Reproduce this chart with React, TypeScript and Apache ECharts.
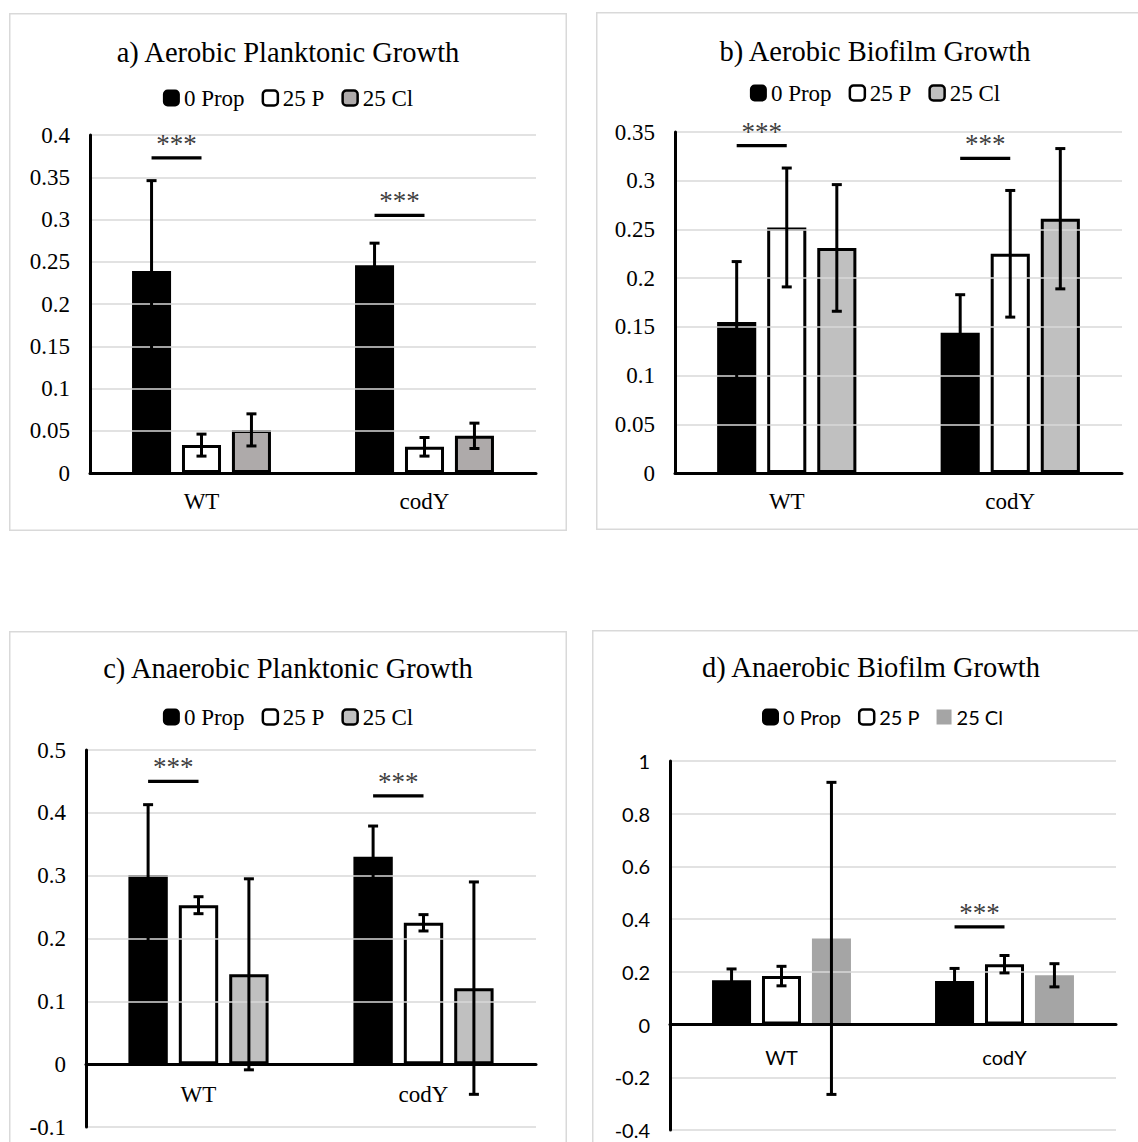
import React, { useEffect, useRef } from 'react';
import * as echarts from 'echarts';

const categories = ['WT', 'codY'];
const seriesNames = ['0 Prop', '25 P', '25 Cl'];

// a) Aerobic Planktonic Growth
const aProp0 = [0.239, 0.246];
const aP25 = [0.033, 0.031];
const aCl25 = [0.051, 0.044];
const aProp0Err = [0.107, 0.026];
const aP25Err = [0.013, 0.011];
const aCl25Err = [0.019, 0.015];
const aSig = [0.373, 0.305];
const aTicks = { min: 0, max: 0.4, interval: 0.05 };

// b) Aerobic Biofilm Growth
const bProp0 = [0.155, 0.144];
const bP25 = [0.252, 0.225];
const bCl25 = [0.231, 0.261];
const bProp0Err = [0.062, 0.039];
const bP25Err = [0.061, 0.065];
const bCl25Err = [0.065, 0.072];
const bSig = [0.336, 0.323];
const bTicks = { min: 0, max: 0.35, interval: 0.05 };

// c) Anaerobic Planktonic Growth
const cProp0 = [0.301, 0.33];
const cP25 = [0.253, 0.225];
const cCl25 = [0.143, 0.121];
const cProp0Err = [0.112, 0.049];
const cP25Err = [0.0135, 0.013];
const cCl25Err = [0.152, 0.169];
const cSig = [0.45, 0.427];
const cTicks = { min: -0.1, max: 0.5, interval: 0.1 };

// d) Anaerobic Biofilm Growth
const dProp0 = [0.168, 0.165];
const dP25 = [0.184, 0.229];
const dCl25 = [0.327, 0.187];
const dProp0Err = [0.043, 0.048];
const dP25Err = [0.037, 0.033];
const dCl25Err = [0.592, 0.044];
const dSig = [null, 0.371];
const dTicks = { min: -0.4, max: 1, interval: 0.2 };

const SERIF = '"Liberation Serif", "Times New Roman", serif';
const SANS = 'Lato, "Liberation Sans", sans-serif';
const BAR_FRAC = 0.175;
const GAP = 0.28;

type Cfg = {
  box: { x: number; y: number; w: number; h: number };
  grid: { left: number; top: number; right: number; bottom: number };
  title: string;
  titleY: number;
  legendY: number;
  legendLeft: number | string;
  legendFont: string;
  legendSize: number;
  axisFont: string;
  axisSize: number;
  xLabelOffset: number;
  labelsAtZero: boolean;
  means: number[][];
  errs: number[][];
  fills: string[];
  borders: number[];
  legendIcons: { icon: string; border: number }[];
  sig: (number | null)[];
  ticks: { min: number; max: number; interval: number };
};

const panels: Cfg[] = [
  {
    box: { x: 9, y: 13, w: 558, h: 518 },
    grid: { left: 81, top: 122, right: 31, bottom: 58 },
    title: 'a) Aerobic Planktonic Growth',
    titleY: 39,
    legendY: 85,
    legendLeft: 'center',
    legendFont: SERIF,
    legendSize: 23,
    axisFont: SERIF,
    axisSize: 23,
    xLabelOffset: 29,
    labelsAtZero: false,
    means: [aProp0, aP25, aCl25],
    errs: [aProp0Err, aP25Err, aCl25Err],
    fills: ['#000000', '#ffffff', '#aeaaaa'],
    borders: [3, 3, 3],
    legendIcons: [
      { icon: 'roundRect', border: 2 },
      { icon: 'roundRect', border: 2.5 },
      { icon: 'roundRect', border: 2.5 },
    ],
    sig: aSig,
    ticks: aTicks,
  },
  {
    box: { x: 596, y: 12, w: 558, h: 518 },
    grid: { left: 79, top: 120, right: 32, bottom: 57 },
    title: 'b) Aerobic Biofilm Growth',
    titleY: 39,
    legendY: 81,
    legendLeft: 'center',
    legendFont: SERIF,
    legendSize: 23,
    axisFont: SERIF,
    axisSize: 23,
    xLabelOffset: 29,
    labelsAtZero: false,
    means: [bProp0, bP25, bCl25],
    errs: [bProp0Err, bP25Err, bCl25Err],
    fills: ['#000000', '#ffffff', '#c0c0c0'],
    borders: [3, 3, 3],
    legendIcons: [
      { icon: 'roundRect', border: 2 },
      { icon: 'roundRect', border: 2.5 },
      { icon: 'roundRect', border: 2.5 },
    ],
    sig: bSig,
    ticks: bTicks,
  },
  {
    box: { x: 9, y: 631, w: 558, h: 518 },
    grid: { left: 77, top: 119, right: 31, bottom: 22 },
    title: 'c) Anaerobic Planktonic Growth',
    titleY: 37,
    legendY: 86,
    legendLeft: 'center',
    legendFont: SERIF,
    legendSize: 23,
    axisFont: SERIF,
    axisSize: 23,
    xLabelOffset: 30,
    labelsAtZero: true,
    means: [cProp0, cP25, cCl25],
    errs: [cProp0Err, cP25Err, cCl25Err],
    fills: ['#000000', '#ffffff', '#c0c0c0'],
    borders: [3, 3, 3],
    legendIcons: [
      { icon: 'roundRect', border: 2 },
      { icon: 'roundRect', border: 2.5 },
      { icon: 'roundRect', border: 2.5 },
    ],
    sig: cSig,
    ticks: cTicks,
  },
  {
    box: { x: 592, y: 630, w: 558, h: 518 },
    grid: { left: 78, top: 131, right: 34, bottom: 18 },
    title: 'd) Anaerobic Biofilm Growth',
    titleY: 37,
    legendY: 87,
    legendLeft: 170,
    legendFont: SANS,
    legendSize: 20,
    axisFont: SANS,
    axisSize: 20,
    xLabelOffset: 32,
    labelsAtZero: true,
    means: [dProp0, dP25, dCl25],
    errs: [dProp0Err, dP25Err, dCl25Err],
    fills: ['#000000', '#ffffff', '#a5a5a5'],
    borders: [3, 3, 0],
    legendIcons: [
      { icon: 'roundRect', border: 2 },
      { icon: 'roundRect', border: 2.5 },
      { icon: 'rect', border: 0 },
    ],
    sig: dSig,
    ticks: dTicks,
  },
];

function buildOption(cfg: Cfg) {
  const series: any[] = [];
  cfg.means.forEach((vals, i) => {
    series.push({
      type: 'bar',
      name: seriesNames[i],
      data: vals,
      barWidth: BAR_FRAC * 100 + '%',
      barGap: GAP * 100 + '%',
      itemStyle: {
        color: cfg.fills[i],
        borderColor: '#000',
        borderWidth: cfg.borders[i],
      },
      z: 2,
      silent: true,
    });
  });
  cfg.means.forEach((vals, i) => {
    series.push({
      type: 'custom',
      name: 'err' + i,
      data: vals.map((m, c) => [c, m, cfg.errs[i][c]]),
      encode: { x: 0, y: 1 },
      z: 4,
      silent: true,
      renderItem: (params: any, api: any) => {
        const cat = api.value(0);
        const m = api.value(1);
        const e = api.value(2);
        const band = api.size([1, 0])[0];
        const bw = band * BAR_FRAC;
        const step = bw * (1 + GAP);
        const cx = api.coord([cat, 0])[0] + (i - 1) * step;
        const yT = api.coord([cat, m + e])[1];
        const yB = api.coord([cat, m - e])[1];
        const st = { stroke: '#000', lineWidth: 3 };
        return {
          type: 'group',
          children: [
            { type: 'line', shape: { x1: cx, y1: yT, x2: cx, y2: yB }, style: st },
            { type: 'line', shape: { x1: cx - 5, y1: yT, x2: cx + 5, y2: yT }, style: st },
            { type: 'line', shape: { x1: cx - 5, y1: yB, x2: cx + 5, y2: yB }, style: st },
          ],
        };
      },
    });
  });
  const sigData = cfg.sig
    .map((y, c) => (y == null ? null : [c, y]))
    .filter((d) => d != null);
  series.push({
    type: 'custom',
    name: 'sig',
    data: sigData,
    encode: { x: 0, y: 1 },
    z: 5,
    silent: true,
    renderItem: (params: any, api: any) => {
      const cat = api.value(0);
      const y = api.value(1);
      const band = api.size([1, 0])[0];
      const bw = band * BAR_FRAC;
      const step = bw * (1 + GAP);
      const mid = api.coord([cat, 0])[0] - step / 2;
      const py = api.coord([cat, y])[1];
      return {
        type: 'group',
        children: [
          {
            type: 'line',
            shape: { x1: mid - step / 2, y1: py, x2: mid + step / 2, y2: py },
            style: { stroke: '#000', lineWidth: 3.3 },
          },
          {
            type: 'text',
            style: {
              text: '***',
              x: mid,
              y: py - 14,
              font: '27px ' + SERIF,
              fill: '#404040',
              textAlign: 'center',
              textVerticalAlign: 'middle',
              align: 'center',
              verticalAlign: 'middle',
            },
          },
        ],
      };
    },
  });
  if (cfg.labelsAtZero) {
    series.push({
      type: 'custom',
      name: 'catLabels',
      data: categories.map((_, c) => [c, 0]),
      encode: { x: 0, y: 1 },
      z: 5,
      silent: true,
      renderItem: (params: any, api: any) => {
        const c = api.value(0);
        const p = api.coord([c, 0]);
        return {
          type: 'text',
          style: {
            text: categories[c],
            x: p[0],
            y: p[1] + cfg.xLabelOffset,
            font: cfg.axisSize + 'px ' + cfg.axisFont,
            fill: '#000',
            textAlign: 'center',
            textVerticalAlign: 'middle',
            align: 'center',
            verticalAlign: 'middle',
          },
        };
      },
    });
  }

  return {
    animation: false,
    backgroundColor: '#ffffff',
    graphic: [
      {
        type: 'rect',
        shape: { x: 0.75, y: 0.75, width: cfg.box.w - 1.5, height: cfg.box.h - 1.5 },
        style: { fill: 'none', stroke: '#d9d9d9', lineWidth: 1.5 },
        silent: true,
      },
      {
        type: 'text',
        x: cfg.box.w / 2,
        y: cfg.titleY,
        style: {
          text: cfg.title,
          font: '28.5px ' + SERIF,
          fill: '#000',
          textAlign: 'center',
          textVerticalAlign: 'middle',
          align: 'center',
          verticalAlign: 'middle',
        },
        silent: true,
      },
    ],
    legend: {
      top: cfg.legendY - cfg.legendSize / 2,
      left: cfg.legendLeft,
      padding: 0,
      itemGap: 17,
      itemWidth: 15,
      itemHeight: 15,
      selectedMode: false,
      textStyle: { fontFamily: cfg.legendFont, fontSize: cfg.legendSize, color: '#000' },
      data: seriesNames.map((n, i) => ({
        name: n,
        icon: cfg.legendIcons[i].icon,
        itemStyle: {
          color: cfg.fills[i],
          borderColor: '#000',
          borderWidth: cfg.legendIcons[i].border,
        },
      })),
    },
    grid: {
      left: cfg.grid.left,
      top: cfg.grid.top,
      right: cfg.grid.right,
      bottom: cfg.grid.bottom,
      containLabel: false,
    },
    xAxis: {
      type: 'category',
      data: categories,
      axisTick: { show: false },
      axisLine: { show: true, onZero: true, lineStyle: { color: '#000', width: 3 } },
      axisLabel: {
        show: !cfg.labelsAtZero,
        fontFamily: cfg.axisFont,
        fontSize: cfg.axisSize,
        color: '#000',
        margin: cfg.xLabelOffset - cfg.axisSize / 2 - 1,
      },
      splitLine: { show: false },
      z: 3,
    },
    yAxis: {
      type: 'value',
      min: cfg.ticks.min,
      max: cfg.ticks.max,
      interval: cfg.ticks.interval,
      axisTick: { show: false },
      axisLine: { show: true, lineStyle: { color: '#000', width: 3 } },
      axisLabel: {
        fontFamily: cfg.axisFont,
        fontSize: cfg.axisSize,
        color: '#000',
        margin: 20,
      },
      splitLine: { show: true, lineStyle: { color: '#d9d9d9', width: 1.5 } },
      z: 3,
    },
    series,
  };
}

function Panel({ cfg }: { cfg: Cfg }) {
  const ref = useRef<HTMLDivElement>(null);
  useEffect(() => {
    if (!ref.current) return;
    const chart = echarts.init(ref.current, null, { renderer: 'svg' });
    chart.setOption(buildOption(cfg) as any);
    return () => chart.dispose();
  }, [cfg]);
  return (
    <div
      ref={ref}
      style={{
        position: 'absolute',
        left: cfg.box.x,
        top: cfg.box.y,
        width: cfg.box.w,
        height: cfg.box.h,
      }}
    />
  );
}

export default function App() {
  return (
    <div
      style={{
        position: 'fixed',
        left: 0,
        top: 0,
        width: 1138,
        height: 1142,
        overflow: 'hidden',
        background: '#ffffff',
      }}
    >
      {panels.map((p, i) => (
        <Panel key={i} cfg={p} />
      ))}
    </div>
  );
}
